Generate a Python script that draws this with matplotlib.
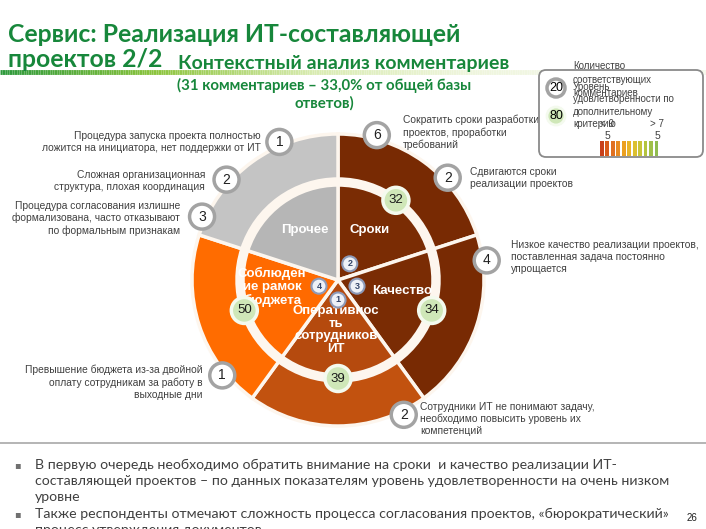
import matplotlib
matplotlib.use('Agg')
import matplotlib.pyplot as plt
import numpy as np
from matplotlib.patches import Circle, FancyBboxPatch, Rectangle
from matplotlib.collections import LineCollection
from matplotlib.colors import LinearSegmentedColormap

# ---------------- data ----------------
categories = ['Сроки', 'Качество', 'Оперативность сотрудников ИТ',
              'Соблюдение рамок бюджета', 'Прочее']
category_labels = ['Сроки', 'Качество', 'Оперативнос\nть\nсотрудников\nИТ',
                   'Соблюден\nие рамок\nбюджета', 'Прочее']
shares = [1, 1, 1, 1, 1]
priority_rank = [2, 3, 1, 4, None]
satisfaction = [32, 34, 39, 50, None]

comment_counts = [6, 2, 4, 2, 1, 1, 2, 3]
comment_texts = [
    'Сократить сроки разработки\nпроектов, проработки\nтребований',
    'Сдвигаются сроки\nреализации проектов',
    'Низкое качество реализации проектов,\nпоставленная задача постоянно\nупрощается',
    'Сотрудники ИТ не понимают задачу,\nнеобходимо повысить уровень их\nкомпетенций',
    'Превышение бюджета из-за двойной\nоплату сотрудникам за работу в\nвыходные дни',
    'Процедура запуска проекта полностью\nложится на инициатора, нет поддержки от ИТ',
    'Сложная организационная\nструктура, плохая координация',
    'Процедура согласования излишне\nформализована, часто отказывают\nпо формальным признакам',
]

title_line1 = 'Сервис: Реализация ИТ-составляющей'
title_line2 = 'проектов 2/2'
subtitle = 'Контекстный анализ комментариев'
subtitle2 = '(31 комментариев – 33,0% от общей базы\nответов)'

legend_count_example = 20
legend_sat_example = 80
legend_count_text = 'Количество\nсоответствующих\nкомментариев'
legend_sat_text = 'Уровень\nудовлетворенности по\nдополнительному\nкритерию'
scale_labels = ['< 0', '> 7']
scale_counts = ['5', '5']
scale_colors = ['#c8401a', '#d85a1a', '#e07020', '#e88a20', '#eca020', '#e8b428',
                '#dcc030', '#c8c438', '#b4c440', '#a0c048', '#90bc50']

bullet1_lines = [
    'В первую очередь необходимо обратить внимание на сроки  и качество реализации ИТ-',
    'составляющей проектов – по данных показателям уровень удовлетворенности на очень низком',
    'уровне',
]
bullet2_lines = [
    'Также респонденты отмечают сложность процесса согласования проектов, «бюрократический»',
    'процесс утверждения документов',
]
page_number = '26'

# ---------------- layout / style ----------------
W, H = 706, 529
def P(y):
    return H - y

inner_colors = ['#7a2c04', '#7a2c04', '#b54a0e', '#ff6a00', '#b6b6b6']
outer_colors = ['#782a03', '#782a03', '#c2520f', '#ff6c00', '#c4c4c4']
gap_color = '#fdf6ee'
GREEN = '#17873b'
TXT = '#404040'
CAL = ['Lato', 'Open Sans', 'DejaVu Sans']
ARI = ['Liberation Sans', 'DejaVu Sans']

cx, cy = 338, P(280)
r_in, r_out, ring_w = 95, 146, 45

comment_angles = [75, 43, 7.5, -64, 219.5, 113, 138, 155]
comment_text_pos = [(403, 120, 'left'), (470, 172, 'left'), (511, 245, 'left'),
                    (420, 407, 'left'), (203, 370, 'right'), (261, 136, 'right'),
                    (205, 175, 'right'), (180, 206, 'right')]
label_pos = [(370, 230), (402, 291), (336, 330), (272, 287), (305, 230)]

fig = plt.figure(figsize=(W / 100, H / 100), dpi=100)
ax = fig.add_axes([0, 0, 1, 1])

ax.add_patch(Circle((cx, cy), r_out - ring_w + 1, fc=gap_color, ec='none', zorder=0))
wedges_in, _ = ax.pie(shares, radius=r_in, center=(cx, cy), startangle=90,
                      counterclock=False, colors=inner_colors, frame=True,
                      wedgeprops=dict(edgecolor=gap_color, linewidth=2.5))
wedges_out, _ = ax.pie(shares, radius=r_out, center=(cx, cy), startangle=90,
                       counterclock=False, colors=outer_colors, frame=True,
                       wedgeprops=dict(width=ring_w, edgecolor=gap_color, linewidth=2.5))
ax.set_xlim(0, W)
ax.set_ylim(0, H)
ax.set_aspect('auto')
ax.axis('off')

mid_angles = [np.deg2rad((w.theta1 + w.theta2) / 2) for w in wedges_in]

# sector labels
for (lx, ly), lab in zip(label_pos, category_labels):
    ax.text(lx, P(ly), lab, color='white', fontsize=9.5, fontweight='bold',
            ha='center', va='center', family=ARI, linespacing=1.1, zorder=6)

# green satisfaction circles on ring
r_ring = (r_in + r_out - ring_w) / 2 + 0.5
for a, v in zip(mid_angles, satisfaction):
    if v is None:
        continue
    x, y = cx + r_ring * np.cos(a), cy + r_ring * np.sin(a)
    ax.add_patch(Circle((x, y), 13, fc='#cfe7b8', ec='#f4faee', lw=2.5, zorder=7))
    ax.text(x, y, str(v), fontsize=9.5, ha='center', va='center', family=ARI,
            color='#1a1a1a', zorder=8)

# center rank circles
for a, v in zip(mid_angles, priority_rank):
    if v is None:
        continue
    x, y = cx + 20 * np.cos(a), cy + 20 * np.sin(a)
    ax.add_patch(Circle((x, y), 7.5, fc='#eef1f7', ec='#8d9ab8', lw=1.5, zorder=7))
    ax.text(x, y, str(v), fontsize=6.5, fontweight='bold', ha='center', va='center',
            family=ARI, color='#34466a', zorder=8)

# outer comment badges
for ang, n, txt, (tx, ty, ha) in zip(comment_angles, comment_counts, comment_texts,
                                     comment_text_pos):
    a = np.deg2rad(ang)
    x, y = cx + 150 * np.cos(a), cy + 150 * np.sin(a)
    ax.add_patch(Circle((x, y), 12.5, fc='white', ec='#a3a3a3', lw=2.5, zorder=7))
    ax.text(x, y, str(n), fontsize=10, ha='center', va='center', family=ARI,
            color='#202020', zorder=8)
    ax.text(tx, P(ty - 5), txt, fontsize=7.4, ha=ha, va='top', family=ARI, color=TXT,
            linespacing=1.22, multialignment=ha, zorder=4)

# title + underline
xs = np.linspace(0, W, 300)
segs = [[(xs[i], P(72)), (xs[i + 1], P(72))] for i in range(len(xs) - 1)]
cmap = LinearSegmentedColormap.from_list('u', ['#2f9a3c', '#8cc43c', '#d8ebb0', '#eef5dc', '#f4f8ea'])
lc = LineCollection(segs, colors=cmap(np.clip(xs[:-1] / 620, 0, 1)), linewidths=3.5, zorder=1)
ax.add_collection(lc)
ax.text(8, P(42), title_line1, fontsize=17.8, fontweight='bold', color=GREEN,
        family=CAL, ha='left', va='baseline', zorder=3)
ax.text(8, P(67), title_line2, fontsize=17.8, fontweight='bold', color=GREEN,
        family=CAL, ha='left', va='baseline', zorder=3)
ax.text(178, P(69), subtitle, fontsize=14, fontweight='bold', color=GREEN,
        family=CAL, ha='left', va='baseline', zorder=3)
ax.text(324, P(94), subtitle2, fontsize=10.8, fontweight='bold', color=GREEN,
        family=CAL, ha='center', va='center', linespacing=1.3, zorder=3)

# legend box
ax.add_patch(FancyBboxPatch((539, P(157)), 164, 87, boxstyle='round,pad=0,rounding_size=7',
                            fc='white', ec='#8a8a8a', lw=1.3, zorder=10))
ax.add_patch(Circle((556, P(88)), 9, fc='white', ec='#a3a3a3', lw=2.5, zorder=11))
ax.text(556, P(88), str(legend_count_example), fontsize=9, ha='center', va='center',
        family=ARI, zorder=12)
ax.add_patch(Circle((556, P(116)), 9, fc='#cfe7b8', ec='#f4faee', lw=2, zorder=11))
ax.text(556, P(116), str(legend_sat_example), fontsize=9, ha='center', va='center',
        family=ARI, zorder=12)
ax.text(573, P(61), legend_count_text, fontsize=7, ha='left', va='top', family=ARI,
        color=TXT, linespacing=1.45, zorder=12)
ax.text(573, P(82), legend_sat_text, fontsize=7, ha='left', va='top', family=ARI,
        color=TXT, linespacing=1.3, zorder=12)
for (sx, lab, cnt) in zip([607, 657], scale_labels, scale_counts):
    ax.text(sx, P(124), lab, fontsize=7, ha='center', va='center', family=ARI,
            color=TXT, zorder=12)
    ax.text(sx, P(136), cnt, fontsize=7.5, ha='center', va='center', family=ARI,
            color=TXT, zorder=12)
bx0, bw = 600, 60
sw = bw / len(scale_colors)
for i, c in enumerate(scale_colors):
    ax.add_patch(Rectangle((bx0 + i * sw, P(156)), sw * 0.7, 15, fc=c, ec='none', zorder=11))

# bottom separator and bullets
ax.plot([0, W], [P(443), P(443)], color='#a8a8a8', lw=1.2, zorder=1)
for y0, lines in zip([465, 514], [bullet1_lines, bullet2_lines]):
    ax.text(14, P(y0), '▪', fontsize=7, color='#707070', ha='left', va='center',
            family=['DejaVu Sans'])
    for k, line in enumerate(lines):
        ax.text(35, P(y0 + 16 * k), line, fontsize=10.2, color=TXT, ha='left',
                va='center', family=CAL)
ax.text(692, P(518), page_number, fontsize=7, ha='center', va='center', family=ARI,
        color='#202020')

fig.savefig('out.png', dpi=100, facecolor='white')
